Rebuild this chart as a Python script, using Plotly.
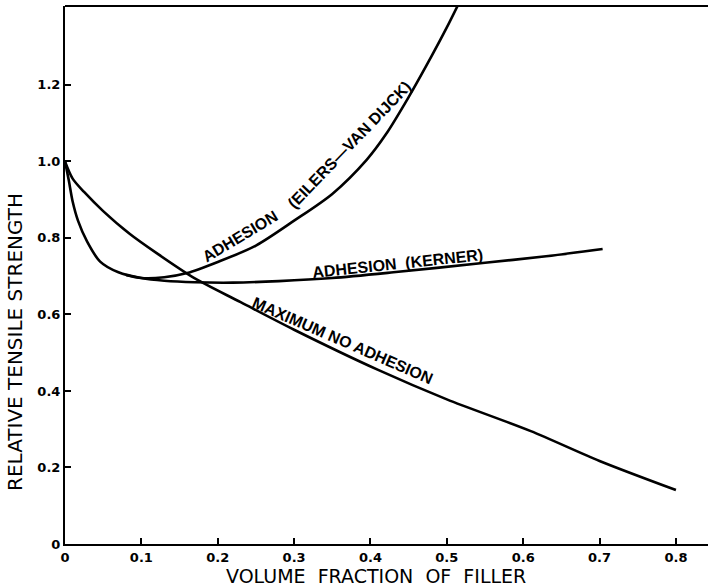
import plotly.graph_objects as go

# --- data ---
no_adh_x = [0.0, 0.01, 0.025, 0.05, 0.085, 0.12, 0.17, 0.23, 0.30, 0.41, 0.50, 0.61, 0.70, 0.80]
no_adh_y = [1.0, 0.955, 0.92, 0.87, 0.81, 0.76, 0.694, 0.632, 0.56, 0.455, 0.378, 0.295, 0.217, 0.141]

kerner_x = [0.0, 0.005, 0.01, 0.017, 0.029, 0.046, 0.07, 0.10, 0.13, 0.17, 0.22, 0.28, 0.35, 0.43, 0.55, 0.63, 0.704]
kerner_y = [1.0, 0.95, 0.895, 0.845, 0.79, 0.738, 0.71, 0.695, 0.688, 0.684, 0.683, 0.687, 0.695, 0.71, 0.735, 0.752, 0.771]

eilers_x = [0.08, 0.10, 0.13, 0.16, 0.20, 0.25, 0.30, 0.35, 0.395, 0.42, 0.45, 0.48, 0.50, 0.515]
eilers_y = [0.703, 0.695, 0.697, 0.708, 0.737, 0.78, 0.845, 0.915, 1.004, 1.07, 1.168, 1.275, 1.35, 1.41]

x_tickvals = [0, 0.1, 0.2, 0.3, 0.4, 0.5, 0.6, 0.7, 0.8]
x_ticktext = ["0", "0.1", "0.2", "0.3", "0.4", "0.5", "0.6", "0.7", "0.8"]
y_tickvals = [0, 0.2, 0.4, 0.6, 0.8, 1.0, 1.2]
y_ticktext = ["0", "0.2", "0.4", "0.6", "0.8", "1.0", "1.2"]

LINE = dict(color="black", width=2.6)

fig = go.Figure()
for xs, ys, nm in [(no_adh_x, no_adh_y, "Maximum no adhesion"),
                   (kerner_x, kerner_y, "Adhesion (Kerner)"),
                   (eilers_x, eilers_y, "Adhesion (Eilers-van Dijck)")]:
    fig.add_trace(go.Scatter(x=xs, y=ys, mode="lines", line=dict(LINE, shape="spline", smoothing=0.8),
                             name=nm, showlegend=False, hoverinfo="skip"))

lab_font = dict(family="Liberation Sans", size=16, color="black", weight="bold")
labels = [
    ("ADHESION  (KERNER)", 0.436, 0.732, -6),
    ("MAXIMUM NO ADHESION", 0.363, 0.531, 23.5),
    ("ADHESION", 0.229, 0.803, -31),
    ("(EILERS—VAN DIJCK)", 0.373, 1.043, -46),
]
for t, x, y, a in labels:
    fig.add_annotation(text=t, x=x, y=y, xref="x", yref="y", showarrow=False,
                       textangle=a, font=lab_font)

title_font = dict(family="DejaVu Sans", size=19, color="black")
fig.add_annotation(text="VOLUME  FRACTION  OF  FILLER", xref="paper", yref="paper",
                   x=(376 - 65) / 643, y=-(576 - 544) / 538, showarrow=False,
                   font=title_font, yanchor="middle", xanchor="center")
fig.add_annotation(text="RELATIVE TENSILE STRENGTH", xref="paper", yref="paper",
                   x=-(65 - 15) / 643, y=(544 - 342) / 538, showarrow=False,
                   font=dict(title_font, size=20), textangle=-90, yanchor="middle", xanchor="center")

# top frame line
fig.add_shape(type="line", xref="paper", yref="paper", x0=0, x1=1, y0=1, y1=1,
              line=dict(color="black", width=2))

tick_font = dict(family="DejaVu Sans", size=13, color="black", weight="bold")
fig.update_xaxes(range=[0, 0.842], tickvals=x_tickvals, ticktext=x_ticktext,
                 ticks="inside", ticklen=6, tickwidth=2, tickcolor="black",
                 showline=True, linecolor="black", linewidth=2, mirror=False,
                 showgrid=False, zeroline=False, tickfont=tick_font)
fig.update_yaxes(range=[0, 1.406], tickvals=y_tickvals, ticktext=y_ticktext,
                 ticks="inside", ticklen=6, tickwidth=2, tickcolor="black",
                 showline=True, linecolor="black", linewidth=2, mirror=False,
                 showgrid=False, zeroline=False, tickfont=tick_font)

fig.update_layout(width=708, height=587, autosize=False,
                  margin=dict(l=65, r=0, t=6, b=43, pad=0),
                  plot_bgcolor="white", paper_bgcolor="white")

fig.write_html("out.html", config={"displayModeBar": False, "responsive": False},
               post_script=("document.body.style.margin='0';"
                            "document.body.style.overflow='hidden';"
                            "document.documentElement.style.overflow='hidden';"))
